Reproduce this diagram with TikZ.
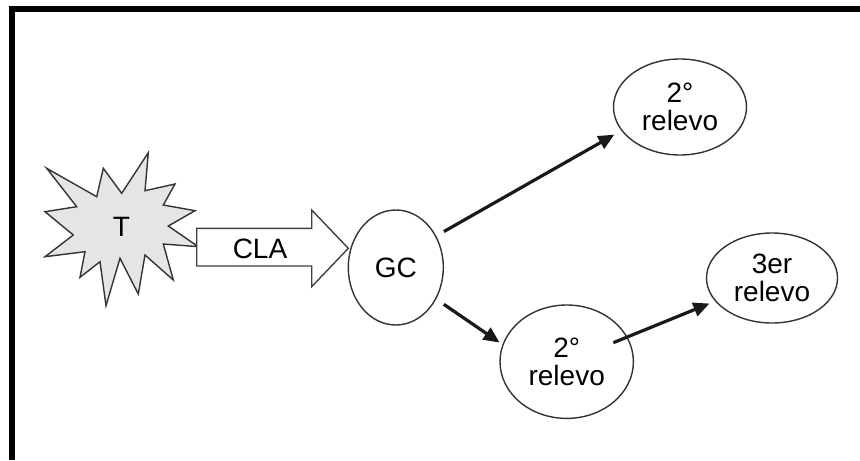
\documentclass[tikz,border=0pt]{standalone}
\usepackage{fontspec}
\setmainfont{Liberation Sans}
\usetikzlibrary{arrows.meta,shapes.geometric}

\tikzset{
  relevo/.style={draw=black!80, line width=0.7pt, ellipse, inner sep=0pt, align=center, text=black, font=\fontsize{14}{14}\selectfont},
  etiq/.style={text=black, font=\fontsize{14}{14}\selectfont},
  flecha/.style={draw=black!90, line width=1.6pt, -{Triangle[length=8pt,width=7pt]}},
}

\begin{document}
\begin{tikzpicture}[x=0.5pt,y=-0.5pt]
  \useasboundingbox (0,0) rectangle (860,460);
  % frame: top and left edges only
  \draw[line width=3pt] (12,460) -- (12,9) -- (860,9);

  % burst T
  \filldraw[fill=black!10, draw=black!80, line width=0.7pt]
    (148.3,152.7) -- (145,190.7) -- (175,184) -- (163.3,205) -- (195,210.7)
    -- (168.3,226) -- (198.3,246.7) -- (163.3,244) -- (173.3,280) -- (145,255)
    -- (138.3,294) -- (120,258.3) -- (106,305.7) -- (100,261.7) -- (80,277.3)
    -- (85,251.7) -- (45,256.7) -- (73.3,235) -- (45,211.7) -- (76.7,206.7)
    -- (46.7,168.3) -- (96.7,196.7) -- (103.3,168.3) -- (121.7,193.3) -- cycle;
  \node[etiq] (t) at (121.5,227) {T};

  % block arrow CLA
  \filldraw[fill=white, draw=black!75, line width=0.7pt]
    (196.7,228.3) -- (311.7,228.3) -- (311.7,210) -- (348.3,248.3)
    -- (311.7,286.7) -- (311.7,266) -- (196.7,266) -- cycle;
  \node[etiq] (cla) at (260,249) {CLA};

  % ellipses
  \node[relevo, minimum width=47.5pt, minimum height=57.5pt] (gc) at (395.8,267.5) {GC};
  \node[relevo, minimum width=66.5pt, minimum height=48pt] (sec1) at (680,107) {2°\\relevo};
  \node[relevo, minimum width=66.7pt, minimum height=56.7pt] (sec2) at (566.7,361.7) {2°\\relevo};
  \node[relevo, minimum width=65.5pt, minimum height=45pt] (ter) at (772,278) {3er\\relevo};

  % arrows
  \draw[flecha, shorten <=4.4pt, shorten >=4pt] (gc.38) -- (sec1.202);
  \draw[flecha, shorten <=4.6pt, shorten >=1.7pt] (gc.-38) -- (sec2.165);
  \draw[flecha, shorten <=25.2pt, shorten >=3pt] (sec2.center) -- (ter);
\end{tikzpicture}
\end{document}
